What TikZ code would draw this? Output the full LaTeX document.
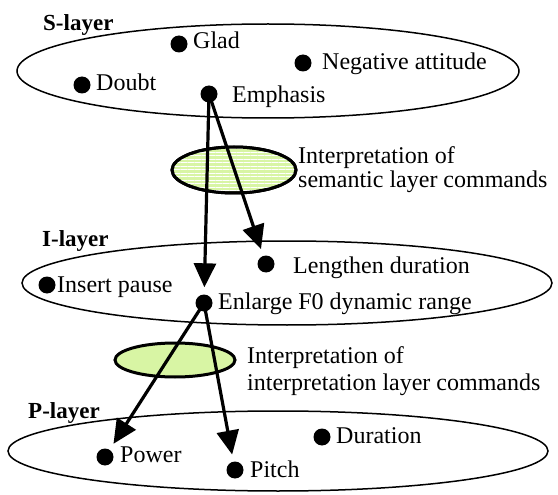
\documentclass[tikz,border=0pt]{standalone}
\usepackage{fontspec}
\setmainfont{Liberation Serif}
\newfontfamily\timesish{Liberation Serif}
\usetikzlibrary{arrows.meta,patterns.meta}
\definecolor{lightgreen}{RGB}{216,245,164}
\tikzset{
  layer/.style={draw=black, line width=1.5pt},
  interp/.style={draw=black, line width=3pt, fill=lightgreen},
  dot/.style={circle, fill=black, inner sep=0pt, minimum size=17pt},
  lbl/.style={anchor=base west, inner sep=0pt, font=\timesish\fontsize{24}{26}\selectfont},
  layername/.style={anchor=base west, inner sep=0pt, font=\timesish\bfseries\fontsize{23}{26}\selectfont},
  link/.style={line width=3.2pt, -{Triangle[length=24pt,width=22pt]}, shorten >=7pt}
}
\begin{document}
\begin{tikzpicture}[x=1pt,y=-1pt]
\useasboundingbox (0,0) rectangle (558,495);
% layer ellipses
\draw[layer] (268,71) ellipse [x radius=251pt, y radius=47pt];
\draw[layer] (287,283) ellipse [x radius=265pt, y radius=42pt];
\draw[layer] (278,451) ellipse [x radius=270pt, y radius=40pt];
% interpretation ellipses
\path[interp, postaction={pattern={Lines[angle=0,distance=3.5pt,line width=0.9pt]}, pattern color=white}]
  (234,170) ellipse [x radius=62pt, y radius=23pt];
\draw[interp] (175,360) ellipse [x radius=60pt, y radius=17pt];
\draw[interp, fill=none] (234,170) ellipse [x radius=62pt, y radius=23pt];
% layer names
\node[layername] (sl) at (43,31) {S-layer};
\node[layername] (il) at (42,247) {I-layer};
\node[layername] (pl) at (28,418) {P-layer};
% dots
\node[dot] (glad) at (179,44) {};
\node[dot] (neg) at (303,63) {};
\node[dot] (doubt) at (82,85) {};
\node[dot] (emph) at (209,94) {};
\node[dot] (len) at (266,264) {};
\node[dot] (ins) at (47,285) {};
\node[dot] (enl) at (204,303) {};
\node[dot] (pow) at (105,457) {};
\node[dot] (pit) at (235,470) {};
\node[dot] (dur) at (322,437) {};
% texts
\node[lbl] (tglad) at (193,49) {Glad};
\node[lbl] (tneg) at (322,70) {Negative attitude};
\node[lbl] (tdoubt) at (96,91) {Doubt};
\node[lbl] (temph) at (232,103) {Emphasis};
\node[lbl] (tlen) at (293,273) {Lengthen duration};
\node[lbl] (tins) at (57,292) {Insert pause};
\node[lbl] (tenl) at (218,309) {Enlarge F0 dynamic range};
\node[lbl] (tpow) at (120,462) {Power};
\node[lbl] (tpit) at (250,477) {Pitch};
\node[lbl] (tdur) at (336,443) {Duration};
\node[lbl] (la1) at (298,164) {Interpretation of};
\node[lbl] (la2) at (298,188) {semantic layer commands};
\node[lbl] (lb1) at (247,363) {Interpretation of};
\node[lbl] (lb2) at (247,390) {interpretation layer commands};
% arrows
\draw[link] (emph.center) -- (enl);
\draw[link] (emph.center) -- (len);
\draw[link] (enl.center) -- (pow);
\draw[link] (enl.center) -- (pit);
\end{tikzpicture}
\end{document}
